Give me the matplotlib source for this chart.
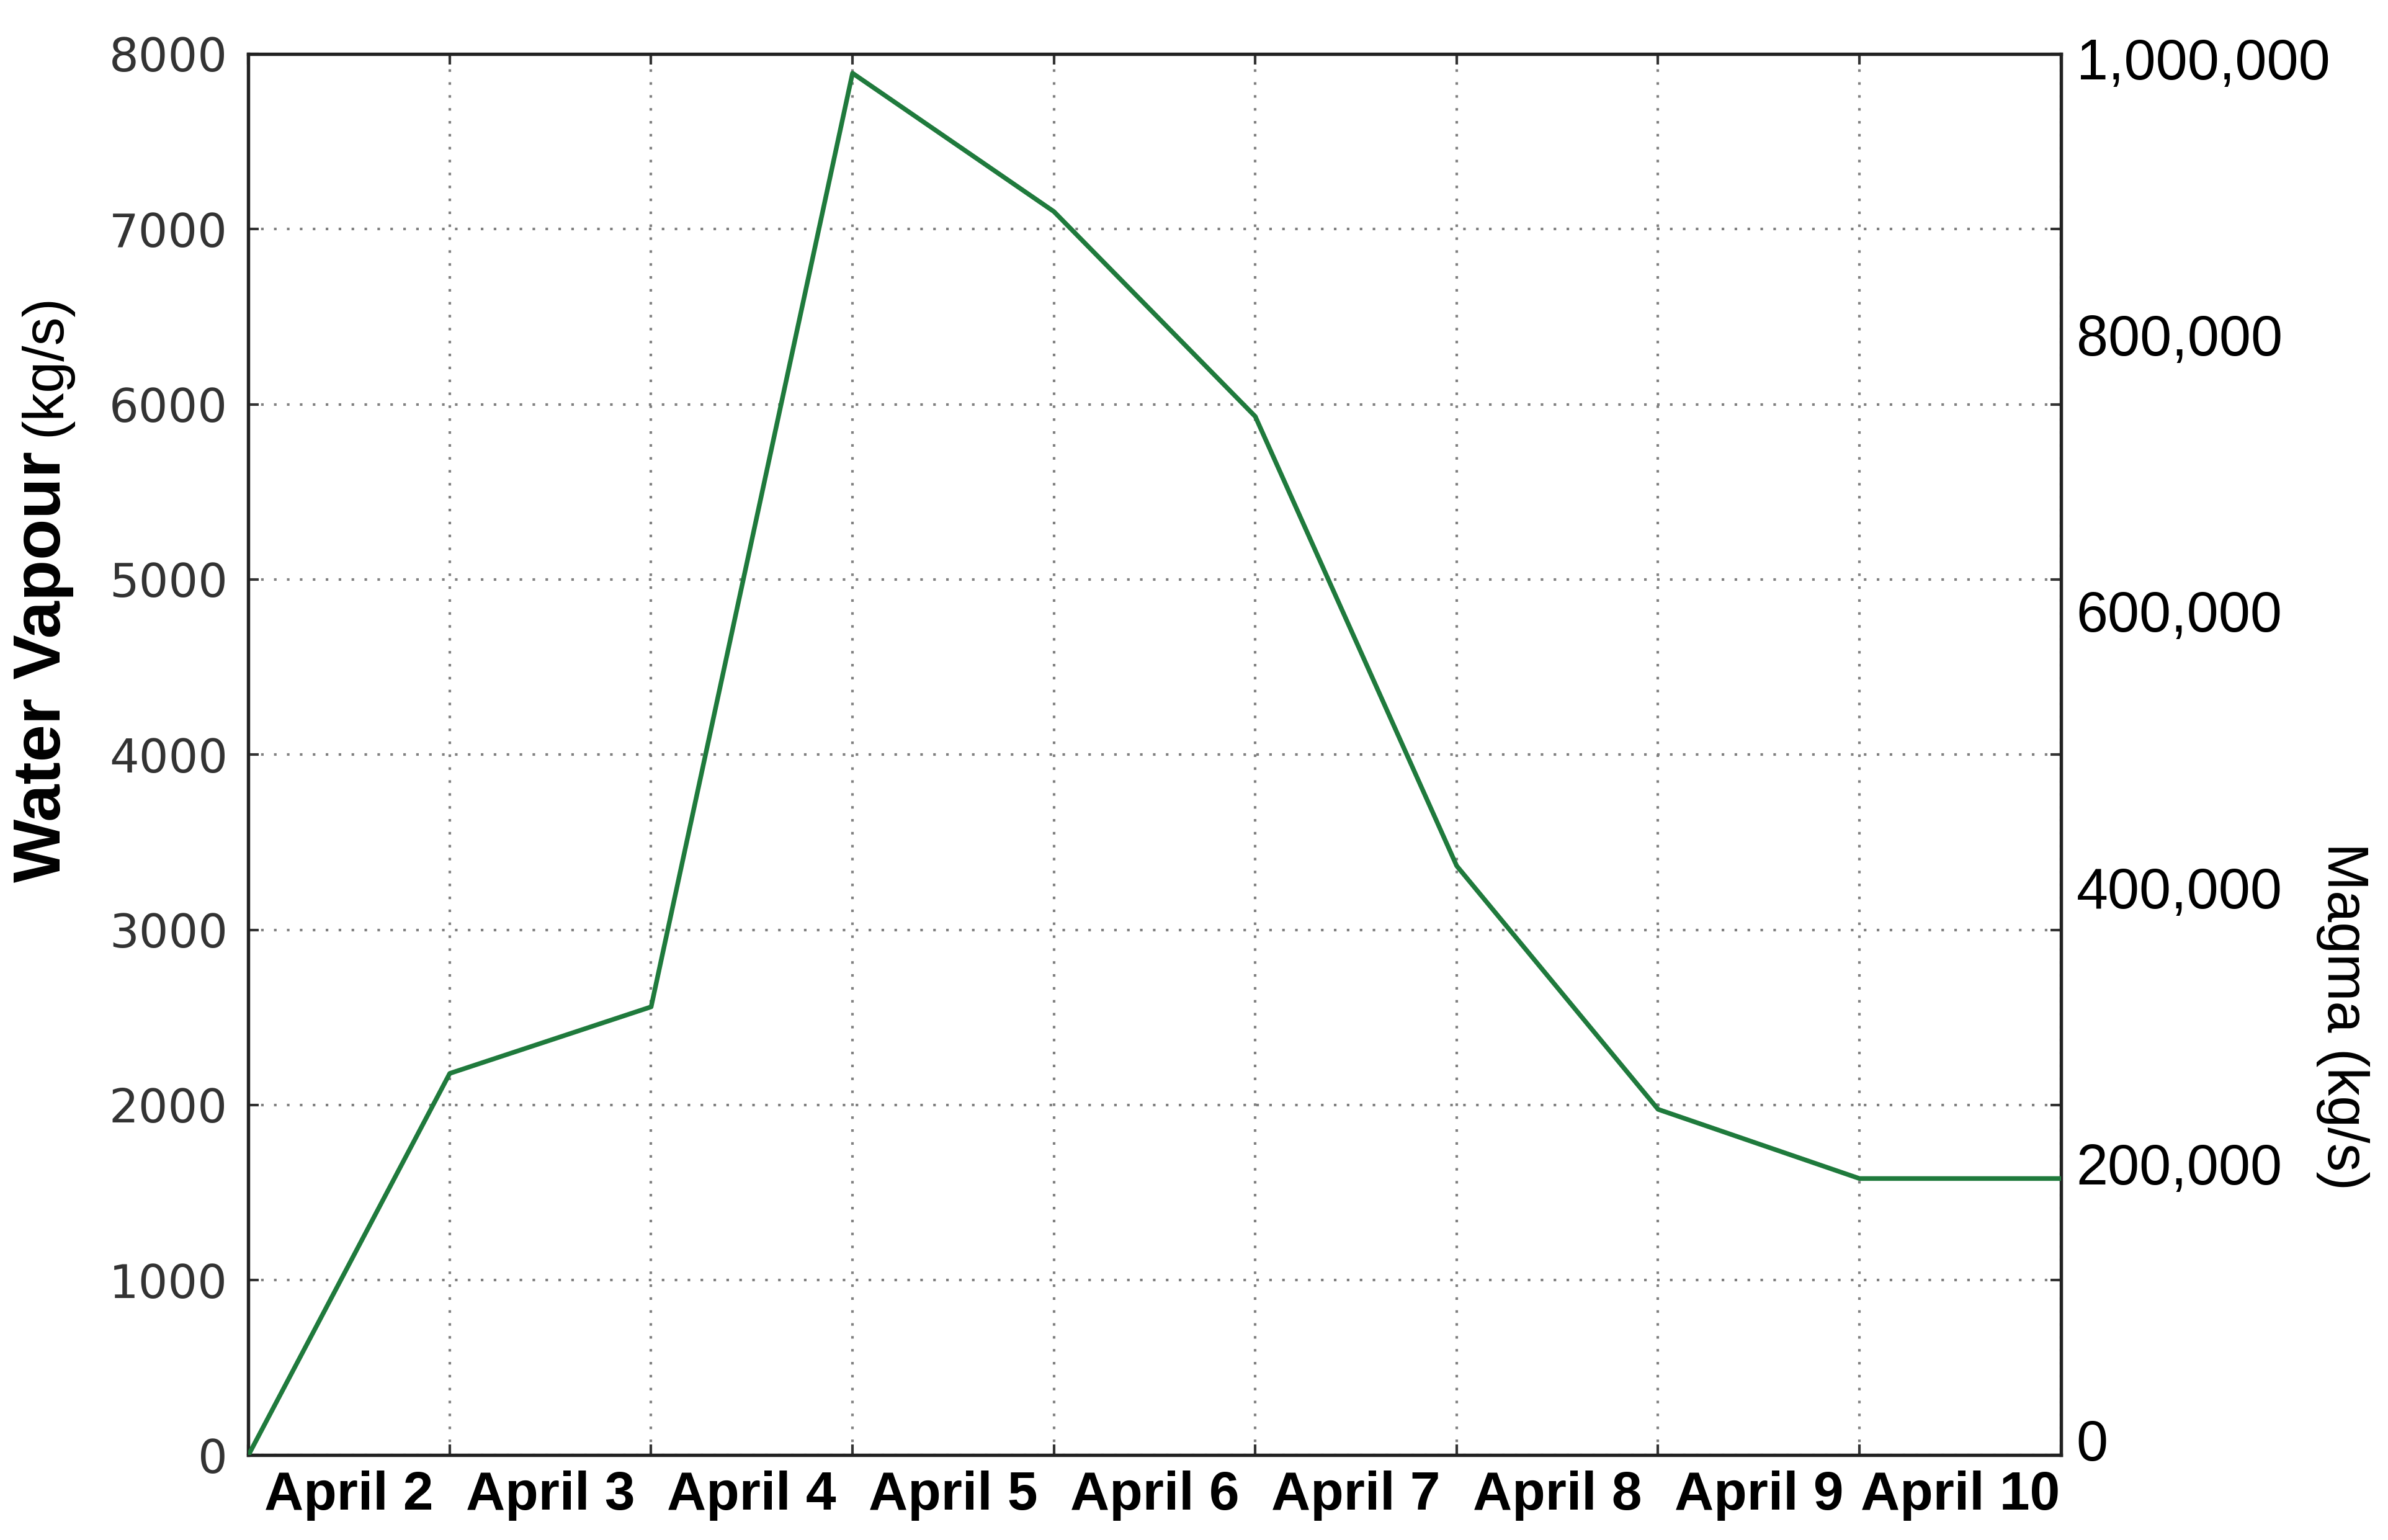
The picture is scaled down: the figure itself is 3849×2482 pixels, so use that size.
import matplotlib
matplotlib.use('Agg')
import matplotlib.pyplot as plt
from matplotlib import font_manager
import numpy as np

# values
days = ['April 2', 'April 3', 'April 4', 'April 5', 'April 6',
        'April 7', 'April 8', 'April 9', 'April 10']
vapour = [0, 2180, 2560, 7890, 7100, 5930, 3365, 1975, 1580, 1580]
vapour_ticks = [0, 1000, 2000, 3000, 4000, 5000, 6000, 7000, 8000]
magma_ticks = [0, 200000, 400000, 600000, 800000, 1000000]

names = {f.name for f in font_manager.fontManager.ttflist}
sans = 'Liberation Sans' if 'Liberation Sans' in names else 'DejaVu Sans'

fig = plt.figure(figsize=(3849 / 300, 2482 / 300), dpi=300)
ax = fig.add_axes([0.104, 0.055, 0.759, 0.910])

x = np.arange(len(vapour))
ax.plot(x, vapour, color='#1f7a3c', lw=1.8, zorder=3)

ax.set_xlim(0, len(vapour) - 1)
ax.set_ylim(0, 8000)
ax.set_yticks(vapour_ticks)
ax.set_xticks(x)
ax.set_xticklabels([])
ax.set_xticks(x[:-1] + 0.5, minor=True)
ax.set_xticklabels(days, minor=True, fontfamily=sans, fontweight='bold', fontsize=21)
ax.tick_params(axis='x', which='minor', length=0, pad=6)

ax.grid(True, which='major', color='#808080', lw=1.0, ls=(0, (1, 4)))
ax.tick_params(which='major', direction='in', length=4, width=1, color='#333333',
               top=True, bottom=True)
ax.tick_params(axis='y', labelsize=18, labelcolor='#333333', pad=8)
for s in ax.spines.values():
    s.set_linewidth(1.3)
    s.set_color('#222222')

ax2 = ax.twinx()
ax2.set_ylim(-11025, 1003307)
ax2.set_yticks(magma_ticks)
ax2.set_yticklabels(['{:,}'.format(v) for v in magma_ticks], fontfamily=sans, fontsize=22)
ax2.tick_params(axis='y', length=0, pad=6)
for s in ax2.spines.values():
    s.set_visible(False)
ax.tick_params(axis='y', which='major', right=True, labelright=False, direction='in')

fig.text(0.018, 0.567, 'Water Vapour', rotation=90, ha='center', va='center',
         fontfamily=sans, fontweight='bold', fontsize=26)
fig.text(0.019, 0.763, '(kg/s)', rotation=90, ha='center', va='center',
         fontfamily=sans, fontsize=22)
fig.text(0.981, 0.340, 'Magma (kg/s)', rotation=270, ha='center', va='center',
         fontfamily=sans, fontsize=22)

fig.savefig('out.png', dpi=300, facecolor='white')
